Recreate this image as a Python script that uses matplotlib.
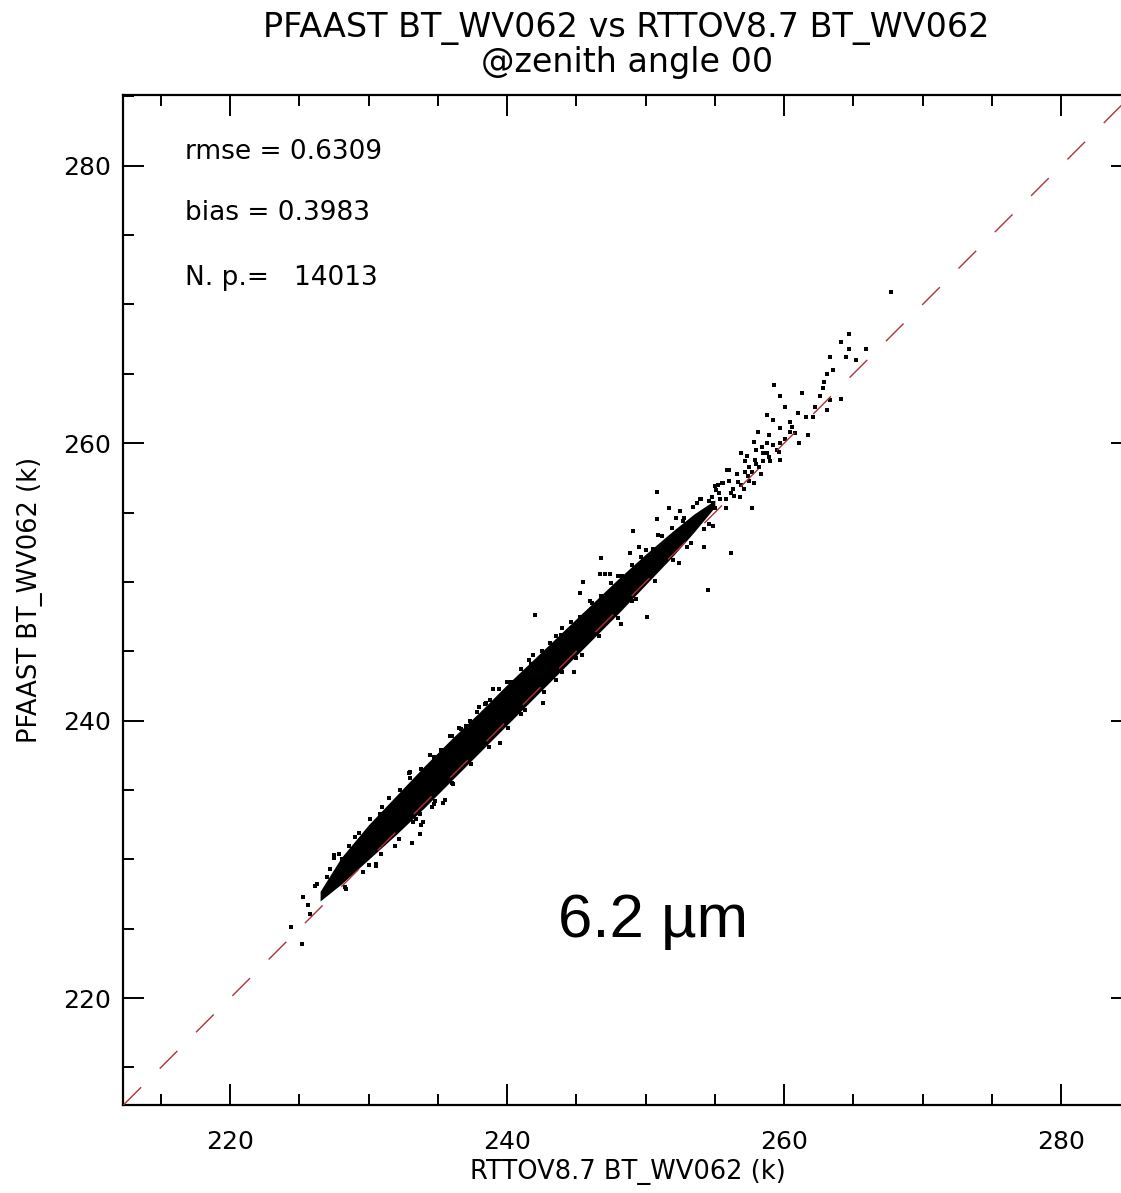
import numpy as np
import matplotlib
matplotlib.use("Agg")
import matplotlib.pyplot as plt
from matplotlib.ticker import MultipleLocator

# axis range (K), same on both axes
lims = [212.3, 285.1]

# dense core of the cloud: x and lower / upper edge of the black band
core_x = [226.5, 228.0, 230.0, 232.0, 234.0, 236.0, 238.0, 240.0, 242.0,
          244.0, 246.0, 248.0, 250.0, 252.0, 253.5, 255.0]
core_lo = [227.0, 228.2, 230.0, 231.8, 233.7, 235.7, 237.7, 239.7, 241.7,
           243.7, 245.7, 247.7, 249.8, 251.9, 253.6, 255.4]
core_hi = [227.7, 230.1, 232.5, 234.6, 236.7, 238.7, 240.6, 242.6, 244.5,
           246.4, 248.3, 250.2, 252.0, 253.7, 254.9, 255.9]

# scattered points around / beyond the core (RTTOV, PFAAST)
pts_x = [267.7, 264.7, 264.1, 264.7, 265.9, 264.5, 265.2, 263.3, 263.5, 263.1,
         262.9, 262.8, 259.3, 259.7, 262.6, 263.3, 264.1, 261.3, 262.2, 263.1,
         260.1, 261.0, 258.8, 259.2, 262.1, 261.6, 260.6, 259.7, 260.4, 260.8,
         261.1, 261.7, 258.1, 258.9, 258.8, 259.7, 257.8, 258.4, 259.5, 258.8,
         258.0, 259.7, 256.9, 257.2, 257.5, 258.0, 258.5, 259.0, 257.7, 258.3,
         257.4, 256.7, 256.3, 255.6, 255.1, 254.8, 256.0, 257.1, 257.8, 256.8,
         255.4, 257.3,
         250.8, 251.7, 252.5, 252.2, 250.8, 249.1, 250.9, 253.0, 249.5, 251.3,
         248.9, 246.8, 254.2, 256.2, 254.5, 246.7, 247.4, 245.5, 245.3, 250.1,
         248.2, 255.9, 255.5, 256.2, 254.9, 253.7, 253.7, 254.9, 253.0, 252.4,
         251.5, 243.5, 243.9, 257.7, 247.1,
         242.0, 241.9, 239.0, 238.5, 237.8, 237.0, 236.7, 234.7, 233.0, 242.6,
         239.5, 244.8, 243.5,
         234.7, 232.9, 233.2, 231.3, 227.5, 228.1, 227.0, 226.1, 225.3, 225.6,
         225.8, 224.4, 225.2, 233.7, 234.7, 235.4, 233.9, 233.1, 231.9, 230.5,
         228.3, 234.6, 235.5, 233.2, 233.8, 233.7, 230.5, 227.5, 226.3,
         229.0, 231.0, 236.0, 240.0, 244.0, 246.0, 248.0, 250.0, 235.2, 238.4,
         241.6, 230.0, 236.0, 241.0, 245.0, 249.0, 252.8, 253.9, 255.0, 254.2,
         # ragged upper edge of the band
         227.2, 227.9, 228.6, 229.3, 230.1, 230.8, 231.5, 232.3, 233.0, 233.8,
         234.4, 235.2, 235.9, 236.5, 237.3, 238.0, 238.8, 239.4, 240.3, 241.0,
         241.7, 242.5, 243.1, 243.9, 244.6, 245.3, 246.1, 246.8, 247.5, 248.3,
         249.0, 249.7, 250.5, 251.2, 251.9, 252.7, 253.4, 254.0,
         # ragged lower edge of the band
         228.4, 229.6, 230.9, 232.2, 233.4, 234.8, 236.1, 237.4, 238.7, 240.1,
         241.3, 242.7, 244.0, 245.4, 246.6, 248.0, 249.3, 250.7, 252.0, 253.3,
         254.6, 255.8,
         # thinning tail
         254.6, 255.0, 255.3, 255.8, 256.0, 256.4, 256.6, 256.9, 257.2, 257.5,
         257.9, 258.2, 258.5, 258.9, 259.2, 259.6, 260.1, 260.4, 255.2, 254.3,
         253.8]
pts_y = [270.9, 267.9, 267.3, 266.8, 266.8, 266.2, 266.0, 266.2, 265.3, 265.0,
         264.4, 264.0, 264.2, 263.4, 263.4, 263.1, 263.2, 263.6, 262.6, 262.4,
         262.6, 262.2, 262.0, 261.7, 261.9, 261.9, 261.2, 261.1, 260.8, 260.7,
         260.0, 260.6, 260.8, 260.6, 260.0, 260.0, 260.1, 259.7, 259.5, 259.3,
         259.5, 258.8, 259.3, 258.7, 258.3, 258.5, 258.7, 258.7, 257.9, 257.8,
         257.6, 257.2, 256.7, 257.1, 256.6, 256.1, 258.1, 256.7, 257.1, 256.1,
         256.0, 259.1,
         256.5, 255.3, 255.1, 254.6, 254.5, 253.7, 253.4, 254.0, 252.5, 252.0,
         252.1, 251.7, 252.5, 252.1, 249.4, 250.6, 250.6, 250.0, 249.2, 247.5,
         247.0, 258.1, 257.1, 256.4, 255.7, 255.7, 254.7, 254.0, 252.5, 251.4,
         252.5, 246.1, 245.8, 255.3, 250.6,
         247.6, 244.7, 242.3, 241.3, 240.6, 239.6, 239.4, 237.4, 236.3, 241.3,
         238.4, 243.5, 242.9,
         237.3, 236.2, 235.4, 233.3, 230.1, 230.0, 228.7, 228.1, 227.3, 226.7,
         226.1, 225.1, 223.9, 233.3, 234.0, 234.1, 232.7, 231.2, 231.0, 229.5,
         228.0, 233.8, 234.3, 232.7, 232.5, 231.8, 229.7, 230.3, 228.2,
         231.6, 233.8, 238.9, 242.8, 246.7, 248.6, 250.4, 252.3, 237.9, 241.2,
         244.4, 229.6, 235.5, 240.5, 244.5, 248.6, 254.6, 256.0, 256.9, 253.8,
         229.3, 230.4, 231.0, 231.9, 232.9, 233.3, 234.4, 235.0, 235.9, 236.5,
         237.5, 237.9, 238.9, 239.5, 240.0, 241.0, 241.5, 242.3, 242.8, 243.7,
         244.1, 245.0, 245.6, 246.2, 247.1, 247.5, 248.5, 249.0, 249.9, 250.4,
         251.2, 251.8, 252.4, 253.3, 253.9, 254.4, 255.4, 256.0,
         227.9, 229.1, 230.4, 231.5, 232.9, 234.2, 235.4, 236.9, 238.1, 239.5,
         240.8, 242.1, 243.5, 244.7, 246.1, 247.4, 248.8, 250.1, 251.6, 252.8,
         254.2, 255.3,
         255.8, 255.3, 256.4, 256.0, 257.3, 256.2, 257.8, 257.0, 257.9, 257.3,
         258.8, 258.3, 259.3, 259.0, 259.9, 259.4, 260.3, 261.5, 257.0, 255.0,
         254.4]

stats = {"rmse": "0.6309", "bias": "0.3983", "npts": "14013"}

plt.rcParams["font.family"] = ["DejaVu Sans"]

fig = plt.figure(figsize=(11.21, 11.93), dpi=100)
ax = fig.add_axes([0.1101, 0.0738, 0.8995, 0.8466])

ax.fill_between(core_x, core_lo, core_hi, color="black", lw=0, zorder=2)
ax.scatter(pts_x, pts_y, s=7, marker="s", color="black", linewidths=0,
           zorder=2)

ax.axline((220, 220), slope=1, color="#b2303c", lw=1.0,
          dashes=(18, 19), zorder=3)

ax.set_xlim(lims)
ax.set_ylim(lims)

for a in (ax.xaxis, ax.yaxis):
    a.set_major_locator(MultipleLocator(20))
    a.set_minor_locator(MultipleLocator(5))
ax.tick_params(which="both", direction="in", top=True, right=True,
               width=1.4, colors="black", labelsize=18)
ax.tick_params(which="major", length=15)
ax.tick_params(which="minor", length=8)
ax.tick_params(axis="x", pad=18)
ax.tick_params(axis="y", pad=9)
for s in ax.spines.values():
    s.set_linewidth(1.6)

ax.set_xlabel("RTTOV8.7 BT_WV062 (k)", fontsize=18.5, va="center")
ax.xaxis.set_label_coords(0.5, -0.0663)
ax.set_ylabel("PFAAST BT_WV062 (k)", fontsize=18.5, va="center")
ax.yaxis.set_label_coords(-0.0926, 0.5)

fig.text(0.559, 0.9765, "PFAAST BT_WV062 vs RTTOV8.7 BT_WV062",
         ha="center", va="center", fontsize=24)
fig.text(0.559, 0.948, "@zenith angle 00", ha="center", va="center",
         fontsize=24)

ax.text(0.061, 0.9436, "rmse = " + stats["rmse"], transform=ax.transAxes,
        fontsize=19, va="center")
ax.text(0.061, 0.8832, "bias = " + stats["bias"], transform=ax.transAxes,
        fontsize=19, va="center")
ax.text(0.061, 0.8188, "N. p.=   " + stats["npts"], transform=ax.transAxes,
        fontsize=19, va="center")

ax.text(0.525, 0.166, "6.2 µm", transform=ax.transAxes, ha="center",
        va="baseline", fontsize=44.5, family=["Liberation Sans", "DejaVu Sans"])

fig.savefig("out.png", dpi=100)
